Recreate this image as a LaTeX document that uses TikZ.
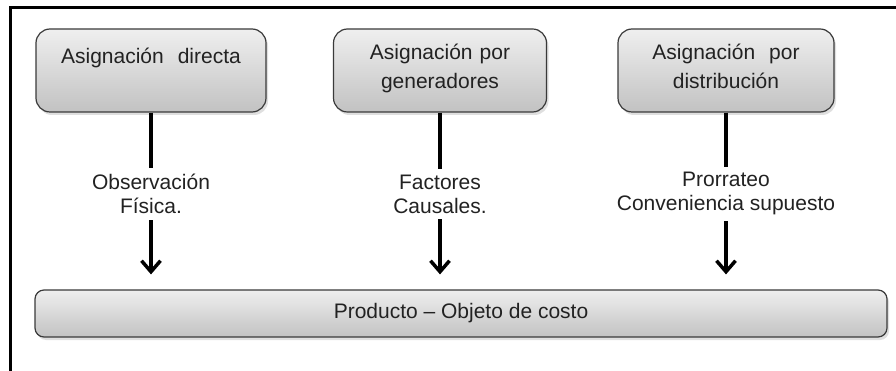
\documentclass[tikz,border=0pt]{standalone}
\usepackage{fontspec}
\setmainfont{Liberation Sans}
\usepackage{xcolor}
\usetikzlibrary{arrows.meta,shadows}

\definecolor{boxtop}{HTML}{EFEFEF}
\definecolor{boxbot}{HTML}{C2C2C2}
\definecolor{boxline}{HTML}{3A3A3A}
\definecolor{txt}{HTML}{222222}

\begin{document}
\begin{tikzpicture}[x=1pt, y=-1pt,
    box/.style={draw=boxline, line width=1.2pt, rounded corners=14pt,
        top color=boxtop, bottom color=boxbot,
        drop shadow={opacity=0.25, shadow xshift=2pt, shadow yshift=-3pt},
        text=txt, inner sep=0pt, text width=#1, align=center,
        font=\fontsize{21}{29}\selectfont, text height=31pt, text depth=52pt},
    bar/.style={draw=boxline, line width=1.2pt, rounded corners=9pt,
        top color=boxtop, bottom color=boxbot,
        drop shadow={opacity=0.25, shadow xshift=2pt, shadow yshift=-3pt},
        text=txt, minimum width=852pt, minimum height=47pt, inner sep=0pt,
        font=\fontsize{21}{24}\selectfont},
    lbl/.style={fill=white, text=txt, align=center, inner xsep=2pt, inner ysep=6pt,
        font=\fontsize{21}{24}\selectfont},
    conn/.style={line width=3.5pt, -{Straight Barb[length=11pt,width=19pt]}, shorten >=15pt}]
    \useasboundingbox (0,0) rectangle (896,371);
    % frame (only left and top edges show)
    \draw[line width=3pt] (10,371) -- (10,8) -- (896,8);
    % sources of cost
    \node[box=230pt, text height=35pt, text depth=48pt] (dir) at (151,70.5) {Asignación\ \ directa};
    \node[box=213pt] (gen) at (440,70.5) {Asignación por\\generadores};
    \node[box=216pt] (dist) at (726,70.5) {Asignación\ \ por\\distribución};
    % cost object
    \node[bar] (prod) at (461,313.5) {Producto -- Objeto de costo};
    % connectors
    \draw[conn] (dir) -- node[lbl, pos=0.46] (obs) {Observación\\Física.} (dir |- prod.north);
    \draw[conn] (gen) -- node[lbl, pos=0.46] (fac) {Factores\\Causales.} (gen |- prod.north);
    \draw[conn] (dist) -- node[lbl, pos=0.46] (pro) {Prorrateo\\Conveniencia supuesto} (dist |- prod.north);
\end{tikzpicture}
\end{document}
